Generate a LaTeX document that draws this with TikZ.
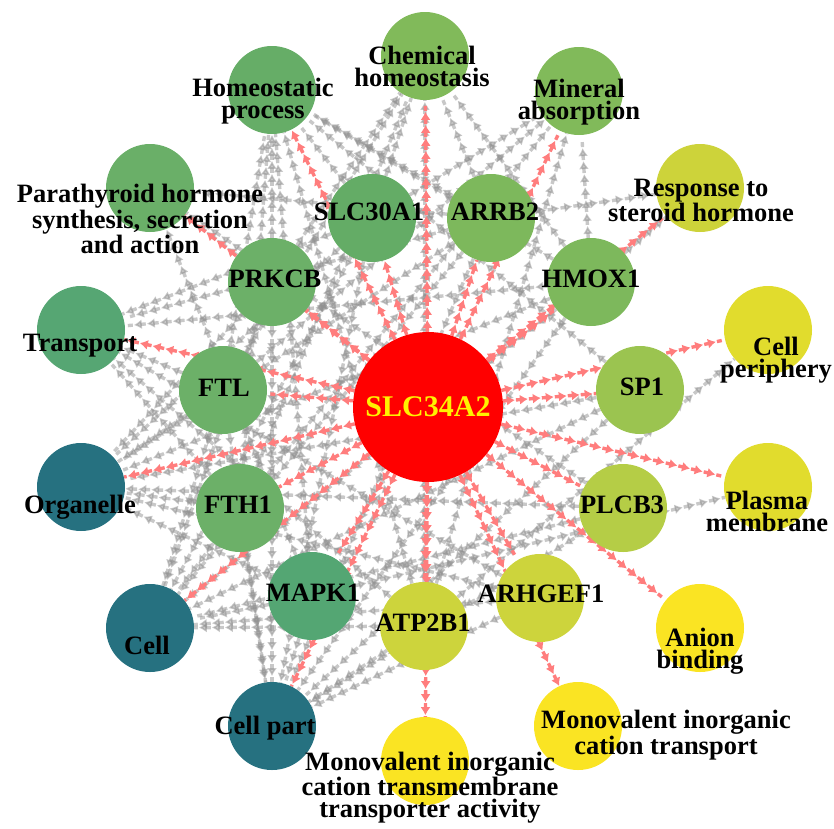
\documentclass[tikz,border=0pt]{standalone}
\usepackage{fontspec}
\setmainfont{Liberation Serif}
\usetikzlibrary{arrows.meta,decorations.markings,backgrounds}

\definecolor{cChem}{RGB}{129,186,90}
\definecolor{cHomeo}{RGB}{102,173,103}
\definecolor{cPth}{RGB}{106,175,104}
\definecolor{cSter}{RGB}{205,211,58}
\definecolor{cPeri}{RGB}{225,220,45}
\definecolor{cYel}{RGB}{250,228,35}
\definecolor{cTrans}{RGB}{86,166,115}
\definecolor{cTeal}{RGB}{38,113,128}
\definecolor{cSlc}{RGB}{100,172,102}
\definecolor{cArrb}{RGB}{125,184,92}
\definecolor{cFer}{RGB}{108,176,104}
\definecolor{cSp}{RGB}{155,196,80}
\definecolor{cPlcb}{RGB}{181,205,70}
\definecolor{cMapk}{RGB}{84,166,115}
\definecolor{cArh}{RGB}{205,212,60}
\definecolor{cLink}{RGB}{145,145,145}
\definecolor{cHub}{RGB}{255,125,125}

\tikzset{
  disc/.style={circle,minimum size=88pt,inner sep=0pt,fill=#1},
  lbl/.style={font=\fontsize{26.5}{22}\selectfont\bfseries,align=center,inner sep=0pt},
  flow/.style={draw=#1,line width=3.4pt,dash pattern=on 5pt off 8pt,
    decoration={markings,mark=between positions 12pt and 1 step 13pt with {\arrow{Latex[length=8pt,width=10pt]}}},
    postaction={decorate}},
  graylink/.style={flow=cLink,opacity=.5},
  hublink/.style={flow=cHub}
}

\begin{document}
\begin{tikzpicture}[x=1pt,y=-1pt]
\useasboundingbox (0,0) rectangle (834,828);

% centre
\node[circle,minimum size=150pt,inner sep=0pt,fill=red] (slc34a2) at (428,407) {};

% outer ring
\node[disc=cChem] (chem) at (425,56) {};
\node[disc=cChem] (mineral) at (579,91) {};
\node[disc=cHomeo] (homeo) at (272,90) {};
\node[disc=cSter] (steroid) at (700,188) {};
\node[disc=cPth] (pth) at (150,188) {};
\node[disc=cPeri] (periph) at (768,330) {};
\node[disc=cTrans] (transport) at (81,330) {};
\node[disc=cPeri] (plasma) at (768,487) {};
\node[disc=cTeal] (organelle) at (81,487) {};
\node[disc=cYel] (anion) at (700,628) {};
\node[disc=cTeal] (cell) at (150,628) {};
\node[disc=cYel] (mct) at (578,726) {};
\node[disc=cTeal] (cellpart) at (272,726) {};
\node[disc=cYel] (mta) at (425,761) {};

% genes
\node[disc=cSlc] (slc30a1) at (372,218) {};
\node[disc=cArrb] (arrb2) at (491,218) {};
\node[disc=cFer] (prkcb) at (272,282) {};
\node[disc=cArrb] (hmox1) at (591,282) {};
\node[disc=cFer] (ftl) at (223,390) {};
\node[disc=cSp] (sp1) at (640,390) {};
\node[disc=cFer] (fth1) at (240,508) {};
\node[disc=cPlcb] (plcb3) at (623,508) {};
\node[disc=cMapk] (mapk1) at (312,596) {};
\node[disc=cArh] (arhgef1) at (540,598) {};
\node[disc=cArh] (atp2b1) at (424,626) {};

% labels
\node[lbl,font=\fontsize{30}{24}\selectfont\bfseries,text=yellow] (slc34a2-l) at (428,407) {SLC34A2};
\node[lbl] (chem-l) at (422,66) {Chemical\\homeostasis};
\node[lbl] (mineral-l) at (579,102) {Mineral\\absorption};
\node[lbl] (homeo-l) at (263,101) {Homeostatic\\process};
\node[lbl] (steroid-l) at (701,200) {Response to\\steroid hormone};
\node[lbl] (pth-l) at (140,219) {Parathyroid hormone\\synthesis, secretion\\and action};
\node[lbl] (periph-l) at (776,360) {Cell\\periphery};
\node[lbl] (transport-l) at (80,346) {Transport};
\node[lbl] (plasma-l) at (767,511) {Plasma\\membrane};
\node[lbl] (organelle-l) at (80,507) {Organelle};
\node[lbl] (anion-l) at (700,651) {Anion\\binding};
\node[lbl] (cell-l) at (147,645) {Cell};
\node[lbl] (mct-l) at (666,735) {Monovalent inorganic\\cation transport};
\node[lbl] (cellpart-l) at (265,728) {Cell part};
\node[lbl] (mta-l) at (430,788) {Monovalent inorganic\\cation transmembrane\\transporter activity};
\node[lbl] (slc30a1-l) at (369,212) {SLC30A1};
\node[lbl] (arrb2-l) at (495,212) {ARRB2};
\node[lbl] (prkcb-l) at (275,279) {PRKCB};
\node[lbl] (hmox1-l) at (591,279) {HMOX1};
\node[lbl] (ftl-l) at (224,388) {FTL};
\node[lbl] (sp1-l) at (642,387) {SP1};
\node[lbl] (fth1-l) at (238,505) {FTH1};
\node[lbl] (plcb3-l) at (622,505) {PLCB3};
\node[lbl] (mapk1-l) at (313,593) {MAPK1};
\node[lbl] (arhgef1-l) at (541,594) {ARHGEF1};
\node[lbl] (atp2b1-l) at (423,623) {ATP2B1};

\begin{pgfonlayer}{background}
% gene -> term links
\foreach \t in {chem,homeo,mineral,transport,organelle,cell,cellpart}
  \draw[graylink] (slc30a1) -- (\t);
\foreach \t in {chem,homeo,steroid,pth,transport,organelle,cell,cellpart}
  \draw[graylink] (arrb2) -- (\t);
\foreach \t in {chem,homeo,mineral,steroid,transport,organelle,cell,cellpart}
  \draw[graylink] (hmox1) -- (\t);
\foreach \t in {chem,homeo,pth,organelle,cell,cellpart}
  \draw[graylink] (prkcb) -- (\t);
\foreach \t in {chem,homeo,mineral,transport,organelle,cell,cellpart}
  \draw[graylink] (ftl) -- (\t);
\foreach \t in {chem,homeo,mineral,transport,organelle,cell,cellpart}
  \draw[graylink] (fth1) -- (\t);
\foreach \t in {homeo,organelle,cell,cellpart}
  \draw[graylink] (sp1) -- (\t);
\foreach \t in {pth,organelle,cell,cellpart}
  \draw[graylink] (plcb3) -- (\t);
\foreach \t in {pth,plasma,homeo,organelle,cell,cellpart}
  \draw[graylink] (mapk1) -- (\t);
\foreach \t in {transport,organelle,cell,cellpart}
  \draw[graylink] (arhgef1) -- (\t);
\foreach \t in {chem,homeo,mineral,transport,periph,cell,cellpart}
  \draw[graylink] (atp2b1) -- (\t);
% SLC34A2 -> everything
\foreach \t in {chem,mineral,homeo,steroid,pth,periph,transport,plasma,organelle,anion,cell,mct,cellpart,mta,
  slc30a1,arrb2,prkcb,hmox1,ftl,sp1,fth1,plcb3,mapk1,arhgef1,atp2b1}
  \draw[hublink] (slc34a2) -- (\t);
\end{pgfonlayer}
\end{tikzpicture}
\end{document}
